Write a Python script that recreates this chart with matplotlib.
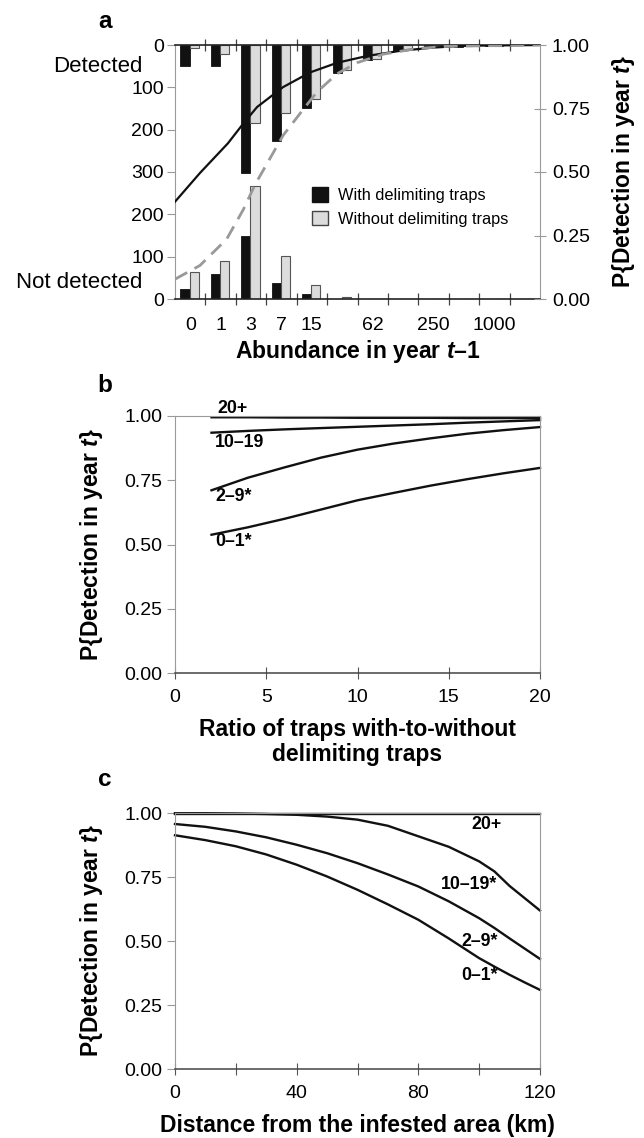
import matplotlib
matplotlib.use("Agg")
import matplotlib.pyplot as plt
from matplotlib.patches import Patch
import numpy as np

plt.rcParams["font.family"] = ["Liberation Sans", "DejaVu Sans"]
plt.rcParams["mathtext.fontset"] = "custom"
plt.rcParams["mathtext.it"] = "Liberation Sans:bold:italic"
plt.rcParams["mathtext.rm"] = "Liberation Sans:bold"

# ---- panel a data ----
abund_labels = ["0", "1", "3", "7", "15", "31", "62", "125", "250", "500", "1000", "2000"]
shown_labels = ["0", "1", "3", "7", "15", "62", "250", "1000"]
detected_with = [49, 49, 303, 227, 148, 65, 35, 14, 8, 5, 3, 0]
detected_without = [8, 22, 184, 161, 127, 59, 34, 10, 5, 3, 2, 0]
missed_with = [23, 60, 148, 38, 12, 1, 1, 0, 0, 0, 0, 0]
missed_without = [63, 89, 267, 102, 33, 5, 1, 0, 0, 0, 0, 0]

p_with_x = [-0.5, 0.32, 1.24, 1.74, 2.2, 3.05, 3.94, 4.83, 5.82, 6.9, 8.0, 9.0, 11.5]
p_with_y = [0.383, 0.496, 0.613, 0.69, 0.756, 0.834, 0.892, 0.93, 0.957, 0.977, 0.99, 0.997, 1.0]
p_without_x = [-0.5, 0.32, 1.2, 1.75, 2.13, 2.63, 3.06, 3.61, 4.16, 4.82, 5.48, 6.35, 7.45, 8.5, 11.5]
p_without_y = [0.078, 0.132, 0.236, 0.353, 0.45, 0.555, 0.645, 0.73, 0.814, 0.886, 0.93, 0.964, 0.986, 0.995, 1.0]

# ---- panel b data ----
ratio = [2, 4, 6, 8, 10, 12, 14, 16, 18, 20]
b_20plus = [0.995, 0.995, 0.994, 0.994, 0.993, 0.993, 0.993, 0.992, 0.992, 0.992]
b_10_19 = [0.935, 0.942, 0.948, 0.953, 0.958, 0.963, 0.968, 0.974, 0.979, 0.984]
b_2_9 = [0.711, 0.76, 0.80, 0.838, 0.869, 0.893, 0.913, 0.931, 0.945, 0.957]
b_0_1 = [0.538, 0.567, 0.60, 0.636, 0.672, 0.701, 0.729, 0.754, 0.777, 0.798]

# ---- panel c data ----
dist = [0, 10, 20, 30, 40, 50, 60, 70, 80, 90, 100, 105, 110, 115, 120]
c_20plus = [0.997] * 15
c_10_19 = [0.999, 0.999, 0.998, 0.996, 0.993, 0.986, 0.974, 0.95, 0.909, 0.868, 0.811, 0.772, 0.715, 0.667, 0.619]
c_2_9 = [0.957, 0.946, 0.928, 0.905, 0.876, 0.843, 0.804, 0.76, 0.713, 0.655, 0.589, 0.551, 0.51, 0.47, 0.43]
c_0_1 = [0.913, 0.894, 0.87, 0.838, 0.798, 0.752, 0.70, 0.643, 0.583, 0.51, 0.433, 0.40, 0.368, 0.338, 0.309]

W, H = 644, 1138
fig = plt.figure(figsize=(W / 100, H / 100), dpi=100)


def box(left, top, right, bottom):
    return [left / W, 1 - bottom / H, (right - left) / W, (bottom - top) / H]


TICK_FS = 14
LAB_FS = 16.5
CURVE_FS = 12.8
SPINE_GRAY = "#9a9a9a"

# ================= panel a =================
ax = fig.add_axes(box(175, 45, 540, 299))
n = len(abund_labels)
idx = np.arange(n)
bw = 0.3
ax.bar(idx - 0.17, -np.array(detected_with), bottom=600, width=bw, color="#111111",
       edgecolor="#111111", linewidth=0.6, zorder=2)
ax.bar(idx + 0.13, -np.array(detected_without), bottom=600, width=bw, color="#dcdcdc",
       edgecolor="#555555", linewidth=0.8, zorder=2)
ax.bar(idx - 0.17, missed_with, width=bw, color="#111111", edgecolor="#111111",
       linewidth=0.6, zorder=2)
ax.bar(idx + 0.13, missed_without, width=bw, color="#dcdcdc", edgecolor="#555555",
       linewidth=0.8, zorder=2)
ax.set_xlim(-0.5, n - 0.5)
ax.set_ylim(0, 600)
ax.set_yticks([0, 100, 200, 300, 400, 500, 600])
ax.set_yticklabels(["0", "100", "200", "300", "200", "100", "0"], fontsize=TICK_FS)
ax.set_xticks(np.arange(0.5, n - 1, 1.0))
ax.set_xticklabels([])
label_pos = [abund_labels.index(s) for s in shown_labels]
ax.set_xticks(label_pos, minor=True)
ax.set_xticklabels(shown_labels, minor=True, fontsize=TICK_FS)
ax.tick_params(axis="x", which="major", direction="inout", length=9, top=True,
               color="#444444", width=0.9)
ax.tick_params(axis="x", which="minor", length=0, pad=13)
ax.tick_params(axis="y", direction="out", length=6, color=SPINE_GRAY, pad=2)
for side in ["left", "right"]:
    ax.spines[side].set_color(SPINE_GRAY)
for side in ["top", "bottom"]:
    ax.spines[side].set_color("#222222")
    ax.spines[side].set_linewidth(1.2)
ax.set_xlabel("Abundance in year $t$\u20131", fontsize=LAB_FS, fontweight="bold")
ax.xaxis.set_label_coords(0.5, -0.208)
ax.xaxis.label.set_va("center")
ax.text(-0.09, 600 - 50, "Detected", transform=ax.get_yaxis_transform(), ha="right",
        va="center", fontsize=16)
ax.text(-0.09, 40, "Not detected", transform=ax.get_yaxis_transform(), ha="right",
        va="center", fontsize=16)

ax2 = ax.twinx()
ax2.plot(p_with_x, p_with_y, color="#111111", lw=1.6, zorder=3)
ax2.plot(p_without_x, p_without_y, color="#999999", lw=2.0, dashes=(5, 3), zorder=3)
ax2.set_ylim(0, 1)
ax2.set_yticks([0, 0.25, 0.5, 0.75, 1.0])
ax2.set_yticklabels(["0.00", "0.25", "0.50", "0.75", "1.00"], fontsize=TICK_FS)
ax2.tick_params(axis="y", direction="inout", length=9, color=SPINE_GRAY, pad=4)
for side in ["left", "right", "top", "bottom"]:
    ax2.spines[side].set_visible(False)
ax2.set_ylabel("P{Detection in year $t$}", fontsize=LAB_FS, fontweight="bold")
ax2.yaxis.set_label_coords(1.23, 0.5)
ax2.yaxis.label.set_va("center")

leg = ax2.legend(handles=[Patch(facecolor="#111111", edgecolor="#111111", label="With delimiting traps"),
                          Patch(facecolor="#dcdcdc", edgecolor="#444444", label="Without delimiting traps")],
                 loc="upper left", bbox_to_anchor=(0.375, 0.44), frameon=False,
                 fontsize=11.8, handlelength=1.0, handleheight=1.0, handletextpad=0.6,
                 borderpad=0, borderaxespad=0, labelspacing=0.45)

fig.text(105 / W, 1 - 21 / H, "a", fontsize=17.5, fontweight="bold", ha="center", va="center")


def style_curve_axes(a):
    for side in ["left", "right", "top"]:
        a.spines[side].set_color(SPINE_GRAY)
    a.spines["bottom"].set_color("#444444")
    a.spines["bottom"].set_linewidth(1.1)
    a.set_ylim(0, 1.0)
    a.set_yticks([0, 0.25, 0.5, 0.75, 1.0])
    a.set_yticklabels(["0.00", "0.25", "0.50", "0.75", "1.00"], fontsize=TICK_FS)
    a.tick_params(axis="y", direction="out", length=6, color=SPINE_GRAY, pad=3)
    a.tick_params(axis="x", direction="inout", length=9, color="#555555", labelsize=TICK_FS, pad=7)
    a.set_ylabel("P{Detection in year $t$}", fontsize=LAB_FS, fontweight="bold")
    a.yaxis.set_label_coords(-0.228, 0.5)
    a.yaxis.label.set_va("center")


# ================= panel b =================
bx = fig.add_axes(box(175, 416, 540, 673))
for ys in [b_20plus, b_10_19, b_2_9, b_0_1]:
    bx.plot(ratio, ys, color="#111111", lw=1.7, clip_on=False)
bx.set_xlim(0, 20)
bx.set_xticks([0, 5, 10, 15, 20])
style_curve_axes(bx)
bx.text(2.3, 1.03, "20+", fontsize=CURVE_FS, fontweight="bold", va="center")
bx.text(2.2, 0.895, "10\u201319", fontsize=CURVE_FS, fontweight="bold", va="center")
bx.text(2.2, 0.685, "2\u20139*", fontsize=CURVE_FS, fontweight="bold", va="center")
bx.text(2.2, 0.51, "0\u20131*", fontsize=CURVE_FS, fontweight="bold", va="center")
bx.set_xlabel("Ratio of traps with-to-without\ndelimiting traps", fontsize=LAB_FS,
              fontweight="bold", linespacing=1.1)
bx.xaxis.set_label_coords(0.5, -0.27)
bx.xaxis.label.set_va("center")
fig.text(105 / W, 1 - 386 / H, "b", fontsize=17.5, fontweight="bold", ha="center", va="center")

# ================= panel c =================
cx = fig.add_axes(box(175, 813, 540, 1069))
for ys in [c_20plus, c_10_19, c_2_9, c_0_1]:
    cx.plot(dist, ys, color="#111111", lw=1.7, clip_on=False)
cx.set_xlim(0, 120)
cx.set_xticks(np.arange(0, 121, 20))
cx.set_xticklabels(["0", "", "40", "", "80", "", "120"])
style_curve_axes(cx)
cx.text(97.5, 0.955, "20+", fontsize=CURVE_FS, fontweight="bold", va="center")
cx.text(87.5, 0.72, "10\u201319*", fontsize=CURVE_FS, fontweight="bold", va="center")
cx.text(94, 0.498, "2\u20139*", fontsize=CURVE_FS, fontweight="bold", va="center")
cx.text(94, 0.365, "0\u20131*", fontsize=CURVE_FS, fontweight="bold", va="center")
cx.set_xlabel("Distance from the infested area (km)", fontsize=LAB_FS, fontweight="bold")
cx.xaxis.set_label_coords(0.5, -0.22)
cx.xaxis.label.set_va("center")
fig.text(105 / W, 1 - 780 / H, "c", fontsize=17.5, fontweight="bold", ha="center", va="center")

fig.savefig("out.png", dpi=100)
